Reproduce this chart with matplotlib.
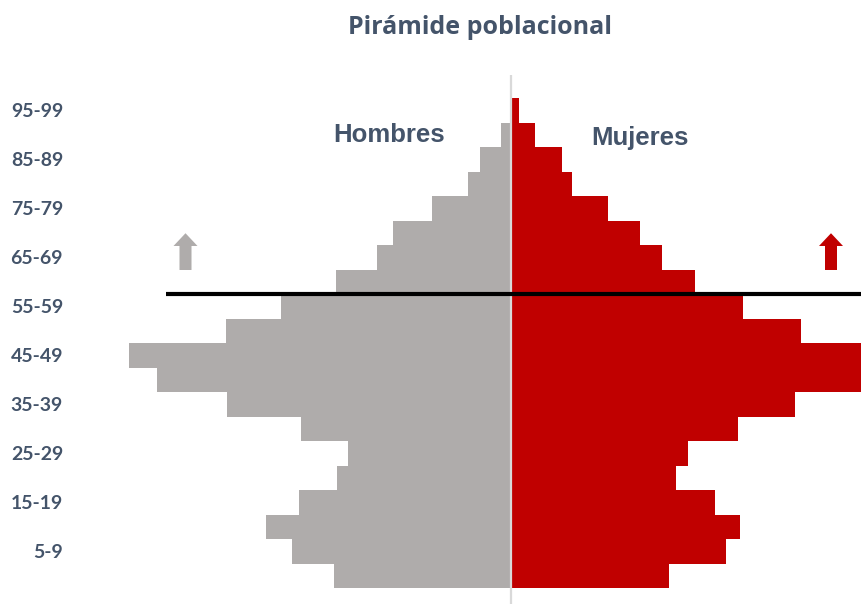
import numpy as np
import matplotlib
matplotlib.use("Agg")
from matplotlib import pyplot as plt
from matplotlib.patches import FancyArrow

# age groups, bottom to top
age_groups = ["0-4", "5-9", "10-14", "15-19", "20-24", "25-29", "30-34", "35-39",
              "40-44", "45-49", "50-54", "55-59", "60-64", "65-69", "70-74",
              "75-79", "80-84", "85-89", "90-94", "95-99"]
hombres = [177, 219, 245, 212, 174, 163, 210, 284, 354, 382,
           285, 230, 175, 134, 118, 79, 43, 31, 10, 0]
mujeres = [158, 215, 229, 204, 165, 177, 227, 284, 355, 358,
           290, 232, 184, 151, 129, 97, 61, 51, 24, 8]

gris = "#AFACAB"
rojo = "#C00000"
texto = "#44546A"

W, H = 861, 604
fig = plt.figure(figsize=(W / 100, H / 100), dpi=100)
# axes in pixel layout: x 70..861, y 75..604
ax = fig.add_axes([70 / W, 0, (W - 70) / W, (H - 75) / H])

y = np.arange(len(age_groups))
ax.barh(y, [-v for v in hombres], height=1.0, color=gris, linewidth=0, zorder=2)
ax.barh(y, mujeres, height=1.0, color=rojo, linewidth=0, zorder=2)

ax.axvline(0, color="#D9D9D9", lw=1.6, zorder=3)

ax.set_xlim(-441, 350)
ax.set_ylim(-0.5 - 16 / 24.5, 19.5 + 23 / 24.5)

# linea horizontal entre 55-59 y 60-64
ax.plot([-345, 350], [11.5, 11.5], color="black", lw=3, zorder=4, solid_capstyle="butt")

# flechas
for xc, col in [(-325.5, gris), (320, rojo)]:
    ax.add_patch(FancyArrow(xc, 12.48, 0, 1.5, width=12, head_width=24,
                            head_length=0.52, length_includes_head=True,
                            color=col, lw=0, zorder=4))

ax.text(-122, 17.99, "Hombres", ha="center", va="center", fontsize=18.5,
        fontweight="bold", color=texto, family="Liberation Sans")
ax.text(129, 17.87, "Mujeres", ha="center", va="center", fontsize=18.5,
        fontweight="bold", color=texto, family="Liberation Sans")

ax.set_yticks(y[1::2])
ax.set_yticklabels(age_groups[1::2], fontsize=14, fontweight="bold",
                   color=texto, family="Lato")
ax.tick_params(axis="y", length=0, pad=5)
ax.set_xticks([])
for s in ax.spines.values():
    s.set_visible(False)

fig.text(480 / W, 1 - 28 / H, "Pirámide poblacional", ha="center", va="center",
         fontsize=18, fontweight="bold", color=texto, family="Open Sans")

fig.savefig("out.png", dpi=100)
